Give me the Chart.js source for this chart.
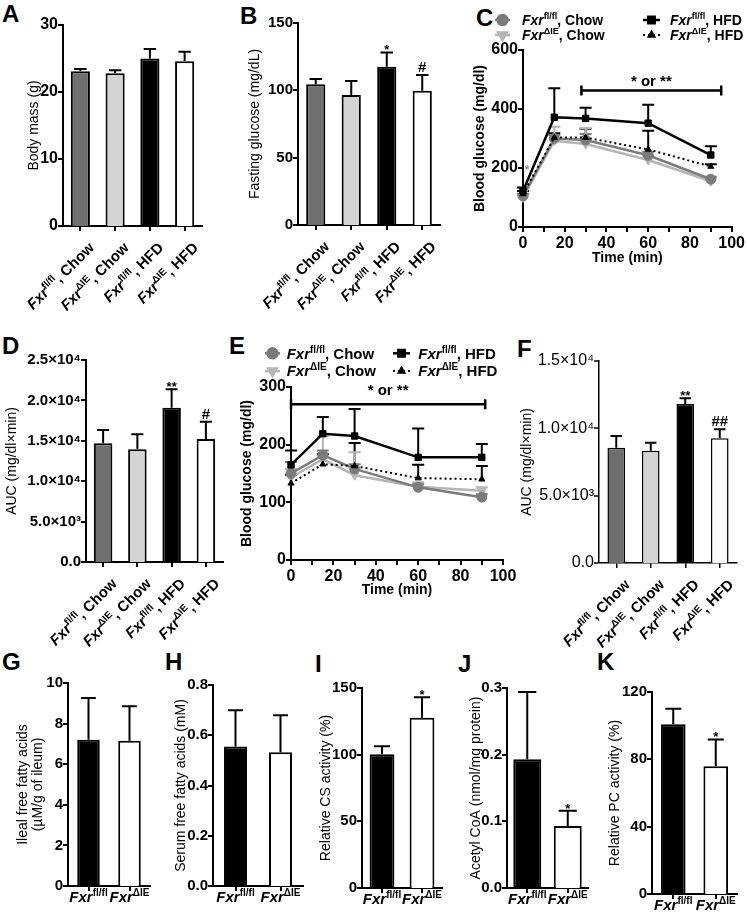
<!DOCTYPE html>
<html>
<head>
<meta charset="utf-8">
<script src="https://cdn.jsdelivr.net/npm/chart.js@4.4.1/dist/chart.umd.min.js"></script>
<style>
  body { margin: 0; background: #fff; width: 747px; height: 918px; position: relative; overflow: hidden; }
  canvas { position: absolute; }
  .tag { position: absolute; font: bold 24px/24px "Liberation Sans", Arial, sans-serif; color: #000; }
</style>
</head>
<body>
<div class="tag" style="left:2px;top:2px">A</div>
<div class="tag" style="left:240px;top:4px">B</div>
<div class="tag" style="left:476px;top:6px">C</div>
<div class="tag" style="left:2px;top:334px">D</div>
<div class="tag" style="left:229px;top:334px">E</div>
<div class="tag" style="left:517px;top:337px">F</div>
<div class="tag" style="left:2px;top:650px">G</div>
<div class="tag" style="left:165px;top:650px">H</div>
<div class="tag" style="left:315px;top:652px">I</div>
<div class="tag" style="left:458px;top:652px">J</div>
<div class="tag" style="left:597px;top:650px">K</div>
<script>
const FONT = '"Liberation Sans", Arial, Helvetica, sans-serif';

// Groups (superscript, suffix)
const groups4 = [["fl/fl", ", Chow"], ["ΔIE", ", Chow"], ["fl/fl", ", HFD"], ["ΔIE", ", HFD"]];
const groups2 = [["fl/fl", ""], ["ΔIE", ""]];

// A - body mass
const bodyMass = [23.1, 22.8, 25.0, 24.6];
const bodyMassSem = [0.35, 0.45, 1.4, 1.4];

// B - fasting glucose
const fastingGlucose = [104.5, 96.5, 117.6, 99.7];
const fastingGlucoseSem = [4, 10.5, 10.5, 11.7];
const fastingGlucoseSig = ["", "", "*", "#"];

// C - glucose tolerance curve
const times = [0, 15, 30, 60, 90];
const gttFlChow = [105, 300, 295, 243, 162];
const gttFlChowSem = [8, 12, 20, 12, 8];
const gttDieChow = [100, 292, 281, 227, 155];
const gttDieChowSem = [8, 48, 54, 15, 10];
const gttFlHfd = [122, 372, 368, 352, 244];
const gttFlHfdSem = [12, 98, 36, 62, 30];
const gttDieHfd = [112, 303, 303, 263, 205];
const gttDieHfdSem = [10, 15, 30, 63, 8];

// D - GTT AUC
const gttAuc = [14700, 13950, 19100, 15220];
const gttAucSem = [1640, 1850, 2280, 2140];
const gttAucSig = ["", "", "**", "#"];
const gttAucTicks = ["0.0", "5.0×10³", "1.0×10⁴", "1.5×10⁴", "2.0×10⁴", "2.5×10⁴"];

// E - insulin tolerance curve
const ittFlChow = [150, 182, 158, 126, 109];
const ittFlChowSem = [20, 8, 8, 6, 5];
const ittDieChow = [143, 175, 147, 127, 120];
const ittDieChowSem = [15, 40, 40, 8, 6];
const ittFlHfd = [165, 219, 215, 178, 178];
const ittFlHfdSem = [25, 29, 47, 50, 23];
const ittDieHfd = [133, 166, 163, 142, 140];
const ittDieHfdSem = [15, 18, 40, 23, 23];

// F - ITT AUC
const ittAuc = [8560, 8330, 11810, 9260];
const ittAucSem = [870, 600, 420, 670];
const ittAucSig = ["", "", "**", "##"];
const ittAucTicks = ["0.0", "5.0×10³", "1.0×10⁴", "1.5×10⁴"];

// G - K
const ilealFfa = [7.2, 7.16];
const ilealFfaSem = [2.06, 1.7];
const serumFfa = [0.555, 0.532];
const serumFfaSem = [0.145, 0.148];
const serumFfaTicks = ["0.0", "0.2", "0.4", "0.6", "0.8"];
const csActivity = [100.3, 127.6];
const csActivitySem = [6, 15.5];
const csActivitySig = ["", "*"];
const acetylCoa = [0.193, 0.093];
const acetylCoaSem = [0.101, 0.023];
const acetylCoaSig = ["", "*"];
const acetylCoaTicks = ["0.0", "0.1", "0.2", "0.3"];
const pcActivity = [100.8, 75.9];
const pcActivitySem = [9.2, 15.9];
const pcActivitySig = ["", "*"];

const barColors4 = ["#6f6f6f", "#d4d4d4", "#000000", "#ffffff"];
const barColors2 = ["#000000", "#ffffff"];

Chart.defaults.font.family = FONT;
Chart.defaults.color = "#000";

// rich text helpers (for superscripts)
function richWidth(ctx, parts) {
  let w = 0;
  parts.forEach(p => { ctx.font = p.font; w += ctx.measureText(p.text).width; });
  return w;
}
function drawRich(ctx, parts, x, y, align) {
  const w = richWidth(ctx, parts);
  let cx = align === "right" ? x - w : align === "center" ? x - w / 2 : x;
  ctx.textAlign = "left";
  ctx.textBaseline = "alphabetic";
  parts.forEach(p => {
    ctx.font = p.font;
    ctx.fillText(p.text, cx, y + (p.dy || 0));
    cx += ctx.measureText(p.text).width;
  });
}
function genoParts(sup, suffix, size) {
  const small = Math.round(size * 0.65);
  const parts = [
    { text: "Fxr", font: `italic bold ${size}px ${FONT}` },
    { text: sup, font: `bold ${small}px ${FONT}`, dy: -Math.round(size * 0.4) }
  ];
  if (suffix) parts.push({ text: suffix, font: `bold ${size}px ${FONT}` });
  return parts;
}

// error bars + significance marks
function drawErrors(chart, o) {
  if (!o.sets) return;
  const ctx = chart.ctx, ys = chart.scales.y;
  o.sets.forEach((errs, di) => {
    const ds = chart.data.datasets[di];
    const meta = chart.getDatasetMeta(di);
    meta.data.forEach((el, i) => {
      const raw = ds.data[i];
      const v = typeof raw === "object" ? raw.y : raw;
      const top = ys.getPixelForValue(v + errs[i]);
      const cap = o.cap ? o.cap : el.width * 0.65;
      ctx.save();
      ctx.strokeStyle = o.color || ds.borderColor;
      ctx.lineWidth = 2;
      ctx.beginPath();
      ctx.moveTo(el.x, el.y);
      ctx.lineTo(el.x, top);
      ctx.moveTo(el.x - cap / 2, top);
      ctx.lineTo(el.x + cap / 2, top);
      ctx.stroke();
      const mark = o.marks && o.marks[di] ? o.marks[di][i] : "";
      if (mark) {
        ctx.fillStyle = "#000";
        ctx.textAlign = "center";
        ctx.textBaseline = "alphabetic";
        if (mark[0] === "*") {
          ctx.font = `bold 13px ${FONT}`;
          ctx.fillText(mark, el.x, top + 2);
        } else {
          ctx.font = `bold 15px ${FONT}`;
          ctx.fillText(mark, el.x, top - 3);
        }
      }
      ctx.restore();
    });
  });
}
const errorBarPlugin = {
  id: "errorBars",
  beforeDatasetsDraw(chart, args, o) { if (o.behind) drawErrors(chart, o); },
  afterDatasetsDraw(chart, args, o) { if (!o.behind) drawErrors(chart, o); }
};

// genotype labels under the x axis
const groupLabelPlugin = {
  id: "groupLabels",
  afterDraw(chart, args, o) {
    if (!o.items) return;
    const ctx = chart.ctx, xs = chart.scales.x, base = chart.chartArea.bottom;
    ctx.save();
    ctx.fillStyle = "#000";
    o.items.forEach((it, i) => {
      const x = xs.getPixelForTick(i);
      const parts = genoParts(it[0], it[1], o.size);
      if (o.rotate) {
        ctx.save();
        ctx.translate(x + 11, base + 19);
        ctx.rotate(-Math.PI / 4);
        drawRich(ctx, parts, 0, 5, "right");
        ctx.restore();
      } else {
        drawRich(ctx, parts, x, base + o.dy, "center");
      }
    });
    ctx.restore();
  }
};

// "* or **" bracket
const bracketPlugin = {
  id: "bracket",
  afterDatasetsDraw(chart, args, o) {
    if (!o.span) return;
    const ctx = chart.ctx, xs = chart.scales.x, ys = chart.scales.y;
    const x1 = xs.getPixelForValue(o.span[0]), x2 = xs.getPixelForValue(o.span[1]);
    const y = ys.getPixelForValue(o.at);
    ctx.save();
    ctx.strokeStyle = "#000";
    ctx.lineWidth = 2.5;
    ctx.beginPath();
    ctx.moveTo(x1, y); ctx.lineTo(x2, y);
    ctx.moveTo(x1, y - 5); ctx.lineTo(x1, y + 5);
    ctx.moveTo(x2, y - 5); ctx.lineTo(x2, y + 5);
    ctx.stroke();
    ctx.fillStyle = "#000";
    ctx.font = `bold 15px ${FONT}`;
    ctx.textAlign = "center";
    ctx.textBaseline = "alphabetic";
    ctx.fillText(o.text, (x1 + x2) / 2, y - o.lift);
    (o.notes || []).forEach(n => {
      ctx.fillStyle = n.color;
      ctx.font = `bold 12px ${FONT}`;
      ctx.fillText(n.text, xs.getPixelForValue(n.x), ys.getPixelForValue(n.y));
    });
    ctx.restore();
  }
};

// legend for the curves
const curveLegendPlugin = {
  id: "curveLegend",
  afterDraw(chart, args, o) {
    if (!o.entries) return;
    const ctx = chart.ctx;
    o.entries.forEach(e => {
      const ds = chart.data.datasets[e.ds];
      const col = o.cols[e.col], y = o.rows[e.row];
      ctx.save();
      ctx.strokeStyle = ds.borderColor;
      ctx.lineWidth = ds.borderWidth;
      ctx.setLineDash(ds.borderDash || []);
      ctx.beginPath();
      ctx.moveTo(col[0], y);
      ctx.lineTo(col[1], y);
      ctx.stroke();
      ctx.setLineDash([]);
      ctx.fillStyle = ds.backgroundColor;
      ctx.strokeStyle = ds.borderColor;
      Chart.helpers.drawPoint(ctx, {
        pointStyle: ds.pointStyle, rotation: ds.pointRotation || 0,
        radius: ds.pointRadius, borderWidth: 1
      }, (col[0] + col[1]) / 2, y);
      ctx.fillStyle = "#000";
      drawRich(ctx, genoParts(e.label[0], e.label[1], o.size), col[2], y + o.size * 0.36, "left");
      ctx.restore();
    });
  }
};

Chart.register(errorBarPlugin, groupLabelPlugin, bracketPlugin, curveLegendPlugin);

function yAxis(max, step, title, o = {}) {
  const ax = {
    min: 0, max,
    ticks: { stepSize: step, font: { size: o.tickSize || 15, weight: o.tickWeight || "bold" }, color: "#000", padding: 0 },
    grid: { drawOnChartArea: false, tickLength: 5, lineWidth: 0, tickWidth: o.lw || 2, tickColor: "#000" },
    border: { color: "#000", width: o.lw || 2 },
    title: { display: true, text: title, color: "#000",
             font: { size: 14, weight: o.titleWeight || "normal", lineHeight: o.lh || 1.2 } }
  };
  if (o.labels) ax.ticks.callback = (v, i) => o.labels[i];
  return ax;
}
function xCategory(lw) {
  return {
    grid: { drawOnChartArea: false, offset: false, tickLength: 5, color: "#000", lineWidth: lw || 2 },
    border: { color: "#000", width: lw || 2 },
    ticks: { display: false }
  };
}
function xTime() {
  return {
    type: "linear", min: 0, max: 100,
    ticks: { stepSize: 10, autoSkip: false, maxRotation: 0, padding: 2,
             font: { size: 16, weight: "bold" }, color: "#000",
             callback: v => (v % 20 === 0 ? String(v) : "") },
    grid: { drawOnChartArea: false, tickLength: 5, color: "#000", lineWidth: 2 },
    border: { color: "#000", width: 2 },
    title: { display: true, text: "Time (min)", color: "#000", font: { size: 14, weight: "bold" } }
  };
}

function makeChart(p) {
  const [x0, y0, w, h] = p.box;
  const [l, t, r, b] = p.area;
  const cv = document.createElement("canvas");
  cv.width = w; cv.height = h;
  cv.style.left = x0 + "px"; cv.style.top = y0 + "px";
  document.body.appendChild(cv);
  const xH = (p.xBottom || (y0 + h)) - b;
  const yT = p.scales.y.title;
  const yLh = yT.font.size * (yT.font.lineHeight || 1.2);
  yT.padding = { top: p.yTitleX - x0 - yLh / 2, bottom: 0 };
  p.scales.y.afterFit = s => { s.width = l - x0; };
  p.scales.x.afterFit = s => { s.height = xH; };
  if (p.scales.x.title) p.scales.x.title.padding = { top: 0, bottom: 0 };
  return new Chart(cv.getContext("2d"), {
    type: p.type,
    data: p.data,
    options: {
      responsive: false, animation: false, devicePixelRatio: 1,
      layout: { padding: { left: 0, top: t - y0, right: x0 + w - r, bottom: y0 + h - b - xH } },
      plugins: Object.assign({ legend: { display: false }, tooltip: { enabled: false } }, p.plugins),
      scales: p.scales
    }
  });
}

function barChart(p) {
  const labels = p.groups.map(g => "Fxr " + g[0] + g[1]);
  return makeChart({
    type: "bar", box: p.box, area: p.area, yTitleX: p.yTitleX,
    data: { labels, datasets: [{
      data: p.values, backgroundColor: p.colors, borderColor: "#000",
      borderWidth: p.lw || 2, borderSkipped: "start",
      barPercentage: p.bar, categoryPercentage: 1
    }] },
    scales: { x: xCategory(p.lw), y: p.y },
    plugins: {
      errorBars: { sets: [p.errors], marks: [p.sig || []], color: "#000" },
      groupLabels: { items: p.groups, rotate: p.groups.length > 2, size: 15, dy: 16 }
    }
  });
}

function curve(vals, style) {
  return Object.assign({ data: times.map((tm, i) => ({ x: tm, y: vals[i] })), clip: false, tension: 0, fill: false }, style);
}
const styleFlHfd = { borderColor: "#000", backgroundColor: "#000", borderWidth: 2.5, pointStyle: "rect", pointRadius: 4.5, pointBorderWidth: 1 };
const styleDieHfd = { borderColor: "#000", backgroundColor: "#000", borderWidth: 2, borderDash: [2, 3], pointStyle: "triangle", pointRadius: 3.5, pointBorderWidth: 1 };
const styleFlChow = { borderColor: "#7b7b7b", backgroundColor: "#7b7b7b", borderWidth: 2.5, pointStyle: "circle", pointRadius: 5, pointBorderWidth: 1 };
const styleDieChow = { borderColor: "#b5b5b5", backgroundColor: "#b5b5b5", borderWidth: 2.5, pointStyle: "triangle", pointRotation: 180, pointRadius: 5, pointBorderWidth: 1 };

function legendEntries() {
  return [
    { ds: 2, col: 0, row: 0, label: ["fl/fl", ", Chow"] },
    { ds: 3, col: 0, row: 1, label: ["ΔIE", ", Chow"] },
    { ds: 0, col: 1, row: 0, label: ["fl/fl", ", HFD"] },
    { ds: 1, col: 1, row: 1, label: ["ΔIE", ", HFD"] }
  ];
}

// A
barChart({ box: [0, 0, 215, 330], area: [63, 25, 202, 226], yTitleX: 34,
  groups: groups4, values: bodyMass, errors: bodyMassSem, colors: barColors4, bar: 0.55,
  y: yAxis(30, 10, "Body mass (g)", { tickSize: 16 }) });

// B
barChart({ box: [235, 0, 225, 330], area: [298, 23, 440, 225], yTitleX: 255,
  groups: groups4, values: fastingGlucose, errors: fastingGlucoseSem, sig: fastingGlucoseSig,
  colors: barColors4, bar: 0.54, y: yAxis(150, 50, "Fasting glucose (mg/dL)") });

// C
makeChart({
  type: "line", box: [462, 0, 285, 270], area: [523, 50, 733, 227], yTitleX: 480, xBottom: 258 + 8.4,
  data: { datasets: [
    curve(gttFlHfd, styleFlHfd), curve(gttDieHfd, styleDieHfd),
    curve(gttFlChow, styleFlChow), curve(gttDieChow, styleDieChow)
  ] },
  scales: { x: xTime(), y: yAxis(600, 200, "Blood glucose (mg/dl)", { titleWeight: "bold", tickSize: 16 }) },
  plugins: {
    errorBars: { behind: true, cap: 12, sets: [gttFlHfdSem, gttDieHfdSem, gttFlChowSem, gttDieChowSem] },
    bracket: { span: [28, 95], at: 463, text: "* or **", lift: 4,
               notes: [{ x: 2, y: 180, text: "*", color: "#8a8a8a" }] },
    curveLegend: { size: 14, rows: [20, 35], cols: [[33, 48, 60], [181, 198, 208]], entries: legendEntries() }
  }
});

// D
barChart({ box: [0, 330, 235, 320], area: [86, 360, 223, 562], yTitleX: 12,
  groups: groups4, values: gttAuc, errors: gttAucSem, sig: gttAucSig, colors: barColors4, bar: 0.54,
  y: yAxis(25000, 5000, "AUC (mg/dl×min)", { labels: gttAucTicks }) });

// E
makeChart({
  type: "line", box: [230, 330, 290, 270], area: [291, 387, 503, 560], yTitleX: 247, xBottom: 590 + 8.4,
  data: { datasets: [
    curve(ittFlHfd, styleFlHfd), curve(ittDieHfd, styleDieHfd),
    curve(ittFlChow, styleFlChow), curve(ittDieChow, styleDieChow)
  ] },
  scales: { x: xTime(), y: yAxis(300, 100, "Blood glucose (mg/dl)", { titleWeight: "bold", tickSize: 16 }) },
  plugins: {
    errorBars: { behind: true, cap: 12, sets: [ittFlHfdSem, ittDieHfdSem, ittFlChowSem, ittDieChowSem] },
    bracket: { span: [0, 91.6], at: 270, text: "* or **", lift: 9 },
    curveLegend: { size: 15, rows: [23.3, 41], cols: [[35, 50, 56.7], [163, 180, 188.3]], entries: legendEntries() }
  }
});

// F
barChart({ box: [510, 330, 237, 320], area: [599, 361, 737, 563], yTitleX: 527,
  groups: groups4, values: ittAuc, errors: ittAucSem, sig: ittAucSig, colors: barColors4, bar: 0.51, lw: 1.5,
  y: yAxis(15000, 5000, "AUC (mg/dl×min)", { labels: ittAucTicks, tickWeight: "normal", tickSize: 16, lw: 1.5 }) });

// G
barChart({ box: [0, 650, 160, 268], area: [68, 683, 150, 886], yTitleX: 23,
  groups: groups2, values: ilealFfa, errors: ilealFfaSem, colors: barColors2, bar: 0.55,
  y: yAxis(10, 2, ["Ileal free fatty acids", "(µM/g of ileum)"], { lh: 1.1 }) });

// H
barChart({ box: [160, 650, 150, 268], area: [213, 685, 303, 886], yTitleX: 181,
  groups: groups2, values: serumFfa, errors: serumFfaSem, colors: barColors2, bar: 0.51,
  y: yAxis(0.8, 0.2, "Serum free fatty acids (mM)", { labels: serumFfaTicks }) });

// I
barChart({ box: [310, 650, 140, 268], area: [362, 688, 442, 888], yTitleX: 326,
  groups: groups2, values: csActivity, errors: csActivitySem, sig: csActivitySig, colors: barColors2, bar: 0.62,
  y: yAxis(150, 50, "Relative CS activity (%)") });

// J
barChart({ box: [455, 650, 140, 268], area: [507, 688, 588, 888], yTitleX: 476,
  groups: groups2, values: acetylCoa, errors: acetylCoaSem, sig: acetylCoaSig, colors: barColors2, bar: 0.69,
  y: yAxis(0.3, 0.1, "Acetyl CoA (nmol/mg protein)", { labels: acetylCoaTicks }) });

// K
barChart({ box: [595, 650, 152, 268], area: [652, 692, 737, 894], yTitleX: 615,
  groups: groups2, values: pcActivity, errors: pcActivitySem, sig: pcActivitySig, colors: barColors2, bar: 0.58,
  y: yAxis(120, 40, "Relative PC activity (%)") });
</script>
</body>
</html>
